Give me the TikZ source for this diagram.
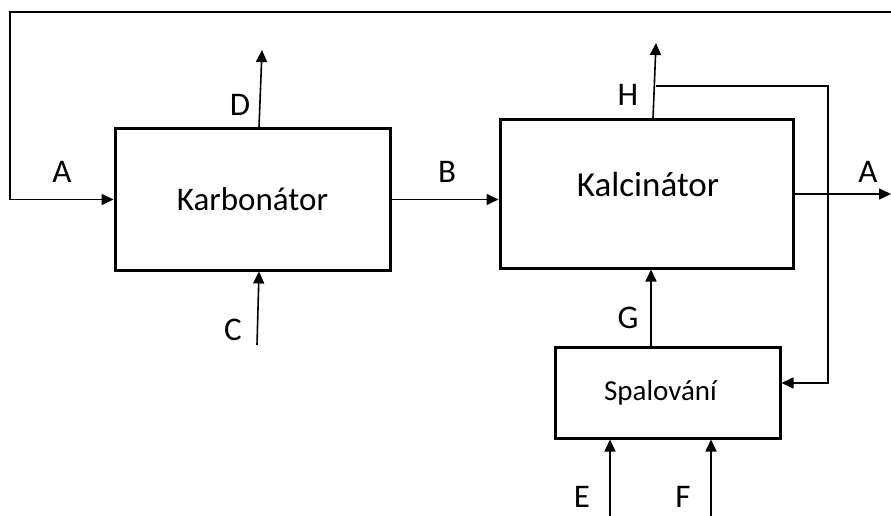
\documentclass[tikz,border=0pt]{standalone}
\usepackage{fontspec}
\setmainfont{Carlito}
\usetikzlibrary{arrows.meta}

\begin{document}
\begin{tikzpicture}[
    x=1pt, y=-1pt,
    unitbox/.style={draw=black, line width=3pt, fill=white, inner sep=0pt},
    flow/.style={line width=1.6pt, -{Triangle[length=12pt,width=11pt]}},
    pipe/.style={line width=1.6pt},
    streamlabel/.style={font=\fontsize{33}{33}\selectfont, inner sep=0pt},
  ]
  \useasboundingbox (0,0) rectangle (891,516);

  % units
  \node[unitbox, minimum width=275pt, minimum height=141pt,
        font=\fontsize{33}{33}\selectfont] (karb) at (252.5,199.5) {Karbonátor};
  \node[unitbox, minimum width=293pt, minimum height=148pt] (kalc) at (646.5,194) {};
  \node[font=\fontsize{35}{35}\selectfont] (kalctext) at (648,184) {Kalcinátor};
  \node[unitbox, minimum width=225pt, minimum height=91pt,
        font=\fontsize{29}{29}\selectfont] (spal) at (667.5,392.5) {\hspace*{-14pt}Spalování};

  % free ends of the streams
  \coordinate (topr) at (891,12);
  \coordinate (topl) at (10,12);
  \coordinate (dout) at (262,50);
  \coordinate (cin) at (257,345);
  \coordinate (hout) at (656,43);
  \coordinate (hsplit) at (656,86);
  \coordinate (hdown) at (828,86);
  \coordinate (spalin) at ([yshift=9.5pt]spal.east);
  \coordinate (aout) at (891,194);
  \coordinate (ein) at (610,516);
  \coordinate (fin) at (711,516);

  % recycle A over the top and into the carbonator
  \draw[pipe] (topr) -- (topl) -- (topl |- karb.west);
  \draw[flow] (topl |- karb.west) -- (karb.west);
  \draw[flow] ([xshift=6.5pt]karb.north) -- (dout);
  \draw[flow] (cin) -- ([xshift=6.5pt]karb.south);
  \draw[flow] (karb.east) -- (karb.east -| kalc.west);

  % calciner streams
  \draw[flow] ([xshift=6.5pt]kalc.north) -- (hout);
  \draw[flow] (hsplit) -- (hdown) -- (hdown |- spalin) -- (spalin);
  \draw[flow] (kalc.east) -- (aout);
  \draw[flow] ([xshift=-16.5pt]spal.north) -- ([xshift=-16.5pt]spal.north |- kalc.south);
  \draw[flow] (ein) -- (ein |- spal.south);
  \draw[flow] (fin) -- (fin |- spal.south);

  % stream labels
  \node[streamlabel] (la1) at (62,172) {A};
  \node[streamlabel] (ld) at (240,105) {D};
  \node[streamlabel] (lc) at (233,330) {C};
  \node[streamlabel] (lb) at (447,172) {B};
  \node[streamlabel] (lh) at (628,95) {H};
  \node[streamlabel] (la2) at (868,172) {A};
  \node[streamlabel] (lg) at (628,318) {G};
  \node[streamlabel] (le) at (582,497) {E};
  \node[streamlabel] (lf) at (683,497) {F};
\end{tikzpicture}
\end{document}
